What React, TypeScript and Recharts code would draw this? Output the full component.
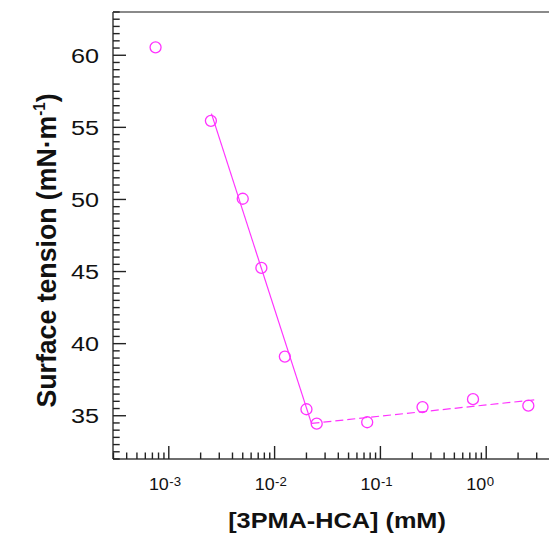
import React from "react";
import { ScatterChart, Scatter, XAxis, YAxis, ReferenceLine } from "recharts";

// Measured data: concentration (mM) vs surface tension (mN/m)
const concentration = [0.00075, 0.0025, 0.005, 0.0075, 0.0125, 0.02, 0.025, 0.075, 0.25, 0.75, 2.5];
const surfaceTension = [60.55, 55.45, 50.05, 45.25, 39.1, 35.45, 34.45, 34.55, 35.6, 36.15, 35.7];

// Linear fit segments (log-x)
const steepFitX = [0.00253, 0.0223];
const steepFitY = [55.95, 34.47];
const plateauFitX = [0.0223, 3.03];
const plateauFitY = [34.47, 36.12];

// Axis settings
const xDomain = [0.000297, 3.92];
const yDomain = [32, 63];
const xMajorTicks = [0.001, 0.01, 0.1, 1];
const xMajorExponents = ["-3", "-2", "-1", "0"];
const xMinorMultipliers = [2, 3, 4, 5, 6, 7, 8, 9];
const xDecades = [0.0001, 0.001, 0.01, 0.1, 1];
const yMajorTicks = [35, 40, 45, 50, 55, 60];
const yTickStep = 0.5;

const COLOR = "#ff33ff";
const FONT = "'Liberation Sans', Arial, sans-serif";

const points = concentration.map((c, i) => ({ x: c, y: surfaceTension[i] }));
const steepLine = steepFitX.map((c, i) => ({ x: c, y: steepFitY[i] }));
const plateauLine = plateauFitX.map((c, i) => ({ x: c, y: plateauFitY[i] }));

const xTicks: number[] = [];
xDecades.forEach((d) => {
  xTicks.push(d);
  xMinorMultipliers.forEach((m) => xTicks.push(+(d * m).toPrecision(6)));
});
const xTicksInDomain = xTicks.filter((t) => t >= xDomain[0] && t <= xDomain[1]);

const yTicks: number[] = [];
for (let v = yDomain[0]; v <= yDomain[1] + 1e-9; v += yTickStep) yTicks.push(+v.toFixed(2));

const XTick = (props: any) => {
  const { x, y, payload } = props;
  const v = payload.value;
  const idx = xMajorTicks.findIndex((m) => Math.abs(m - v) / m < 1e-6);
  const major = idx >= 0;
  return (
    <g>
      <line x1={x} x2={x} y1={y} y2={y - (major ? 13 : 6.5)} stroke="#222" strokeWidth={1.4} />
      {major && (
        <g transform={`translate(${x},${y})`}>
          <g transform="translate(0,31) scale(1.12,1)">
            <text x={0} y={0} textAnchor="end" fontSize={16} fontFamily={FONT} fill="#111">
              10
            </text>
          </g>
          <g transform="translate(0.5,27) scale(1.1,1)">
            <text x={0} y={0} textAnchor="start" fontSize={12} fontFamily={FONT} fill="#111">
              {xMajorExponents[idx]}
            </text>
          </g>
        </g>
      )}
    </g>
  );
};

const YTick = (props: any) => {
  const { x, y, payload } = props;
  const v = payload.value;
  const major = yMajorTicks.includes(v);
  return (
    <g>
      <line x1={x} x2={x + (major ? 13 : 6.7)} y1={y} y2={y} stroke="#222" strokeWidth={1.4} />
      {major && (
        <g transform={`translate(${x - 14},${y + 7.5}) scale(1.2,1)`}>
          <text x={0} y={0} textAnchor="end" fontSize={21} fontFamily={FONT} fill="#111">
            {v}
          </text>
        </g>
      )}
    </g>
  );
};

const XLabel = (props: any) => {
  const vb = props.viewBox;
  return (
    <g transform={`translate(${vb.x + vb.width / 2 + 6},${vb.y + 69}) scale(1.15,1)`}>
      <text x={0} y={0} textAnchor="middle" fontSize={22} fontWeight="bold" fontFamily={FONT} fill="#111">
        [3PMA-HCA] (mM)
      </text>
    </g>
  );
};

const YLabel = (props: any) => {
  const vb = props.viewBox;
  return (
    <g transform={`translate(${vb.x + 56},${vb.y + vb.height / 2 + 15}) rotate(-90) scale(1.16,1.2)`}>
      <text x={0} y={0} textAnchor="middle" fontSize={23} fontWeight="bold" fontFamily={FONT} fill="#111">
        Surface tension (mN·m
        <tspan dy={-9} fontSize={13}>-1</tspan>
        <tspan dy={9}>)</tspan>
      </text>
    </g>
  );
};

const Circle = (props: any) => (
  <circle cx={props.cx} cy={props.cy} r={5.5} fill="none" stroke={COLOR} strokeWidth={1.3} />
);
const NoShape = () => <g />;

export default function App() {
  return (
    <div style={{ position: "absolute", left: 0, top: 0, background: "#fff" }}>
      <ScatterChart width={549} height={538} margin={{ top: 12, right: 0, bottom: 0, left: 0 }}>
        <XAxis
          dataKey="x"
          type="number"
          scale="log"
          domain={xDomain}
          allowDataOverflow
          ticks={xTicksInDomain}
          interval={0}
          tickSize={0}
          tickMargin={0}
          tickLine={false}
          tick={XTick}
          height={79}
          axisLine={{ stroke: "#6e6e6e", strokeWidth: 2 }}
          label={{ content: XLabel }}
        />
        <YAxis
          dataKey="y"
          type="number"
          domain={yDomain}
          allowDataOverflow
          ticks={yTicks}
          interval={0}
          tickSize={0}
          tickMargin={0}
          tickLine={false}
          tick={YTick}
          width={113}
          axisLine={{ stroke: "#6e6e6e", strokeWidth: 2 }}
          label={{ content: YLabel }}
        />
        <ReferenceLine y={63} stroke="#8a8a8a" strokeWidth={2} ifOverflow="extendDomain" />
        <Scatter
          data={steepLine}
          line={{ stroke: COLOR, strokeWidth: 1.2 }}
          lineType="joint"
          shape={NoShape}
          isAnimationActive={false}
        />
        <Scatter
          data={plateauLine}
          line={{ stroke: COLOR, strokeWidth: 1.2, strokeDasharray: "8 4" }}
          lineType="joint"
          shape={NoShape}
          isAnimationActive={false}
        />
        <Scatter data={points} shape={Circle} isAnimationActive={false} />
      </ScatterChart>
    </div>
  );
}
